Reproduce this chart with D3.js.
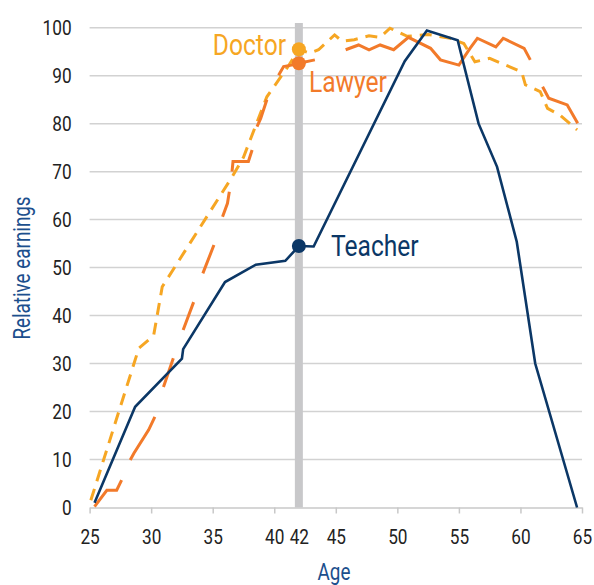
<!DOCTYPE html>
<html>
<head>
<meta charset="utf-8">
<script src="https://cdn.jsdelivr.net/npm/d3@7"></script>
<style>
  body { margin: 0; background: #fff; }
  svg text { font-family: Roboto, "Liberation Sans", sans-serif; font-weight: 400; }
</style>
</head>
<body>
<svg id="earnings"></svg>
<script>
////////////////
// THE DATA
////////////////

// Teacher: solid navy line
var teacherAge = [25.4, 28.7, 32.5, 32.6, 36.0, 38.5, 40.9, 42.0, 43.2, 50.6, 52.4, 54.9, 56.6, 58.1, 59.7, 61.2, 64.6];
var teacherVal = [1, 21, 31, 33, 47, 50.6, 51.4, 54.5, 54.4, 93, 99.4, 97.4, 80, 71, 55.4, 30, 0];

// Doctor: dashed amber line
var doctorAge = [25.1, 29.0, 30.2, 30.9, 36.6, 37.5, 39.4, 41.2, 42.0, 42.9, 43.6, 44.9, 45.5, 46.5, 47.7, 48.6, 49.4, 50.8, 52.5, 54.3, 55.4, 56.3, 57.5, 60.1, 60.4, 61.6, 62.2, 63.2, 64.6];
var doctorVal = [1.5, 33.2, 35.8, 46, 69, 73, 85.6, 92.2, 95.5, 94.7, 95.4, 98.5, 97.2, 97.5, 98.3, 98, 99.9, 98.2, 98.6, 97.8, 96.7, 92.9, 93.6, 90.8, 88.1, 86.7, 83.2, 81.8, 78.7];

// Lawyer: solid orange line, null = missing years (gaps)
var lawyerAge = [25.4, 26.4, 27.2, 27.6, null, 28.3, 28.6, 29.8, 30.3, null, 31.0, 31.8, null, 32.6, 33.45, null, 34.2, 35.1, null, 35.8, 36.2, 36.35, null, 36.57, 36.65, 37.9, 38.2, null, 38.6, 38.9, 39.4, null, 40.35, 40.76, 41.4, 42.0, 43.3, null, 45.8, 46.85, 47.7, 48.6, 49.7, 50.9, 52.7, 53.5, 55.0, 55.9, 56.5, 58.0, 58.6, 60.3, 60.8, null, 61.8, 62.3, 63.8, 64.65];
var lawyerVal = [0.2, 3.6, 3.6, 5.7, null, 9.9, 11.3, 16.2, 18.9, null, 25.1, 31.1, null, 37, 42.8, null, 48.8, 54.7, null, 60.6, 63.4, 65.8, null, 70, 72.1, 72.1, 74.5, null, 79.4, 81.1, 85, null, 90.1, 91.9, 92.2, 92.6, 93.3, null, 95.4, 96.4, 95.4, 96.4, 95.4, 98.0, 95.7, 93.3, 92.2, 95.7, 97.8, 96, 97.8, 95.7, 93.3, null, 87.7, 85.3, 83.9, 80.1];

// Ticks
var xTicks = [25, 30, 35, 40, 42, 45, 50, 55, 60, 65];
var yTicks = [0, 10, 20, 30, 40, 50, 60, 70, 80, 90, 100];

// The highlighted age and the value of each series there
var markAge = 42;
var markDoctor = 95.5,
    markLawyer = 92.6,
    markTeacher = 54.5;

// General vars
var width = 594,
    height = 585,
    navy = '#0b3766',
    amber = '#f6a623',
    orange = '#f27a2a',
    grid = '#d2d2d2',
    squeeze = 'scale(0.82,1)';   // fake a condensed face

var x = d3.scaleLinear().domain([25, 65]).range([89.6, 582]);
var y = d3.scaleLinear().domain([0, 100]).range([507.5, 27.7]);

var svg = d3.select('svg#earnings')
  .attr('width', width)
  .attr('height', height)
  .attr('viewBox', '0,0,' + width + ',' + height);

// Put a text at x,y and squeeze it horizontally
function label(txt, px, py, size, color, anchor, extra){
  return svg.append('text')
    .text(txt)
    .attr('transform', 'translate(' + px + ',' + py + ')' + (extra || '') + ' ' + squeeze)
    .attr('text-anchor', anchor || 'start')
    .style('font-size', size + 'px')
    .attr('fill', color);
}

// Horizontal gridlines
svg.append('g')
  .selectAll('line')
  .data(yTicks.filter(function(d){ return d > 0; }))
  .enter().append('line')
    .attr('x1', x(25))
    .attr('x2', x(65))
    .attr('y1', function(d){ return y(d); })
    .attr('y2', function(d){ return y(d); })
    .attr('stroke', grid)
    .attr('stroke-width', 1.5);

// Y axis labels
var yAxis = svg.append('g')
  .attr('transform', 'translate(' + (x(25) - 18) + ',0)')
  .call(d3.axisLeft(y).tickValues(yTicks).tickSize(0).tickPadding(0));
yAxis.select('.domain').remove();
yAxis.attr('font-family', null);
yAxis.selectAll('text')
  .attr('x', 0)
  .attr('transform', squeeze)
  .style('font-size', '21px')
  .attr('fill', '#222');

// X axis
var xAxis = svg.append('g')
  .attr('transform', 'translate(0,' + y(0) + ')')
  .call(d3.axisBottom(x).tickValues(xTicks).tickSize(6).tickSizeOuter(0).tickPadding(16).tickFormat(d3.format('d')));
xAxis.attr('font-family', null);
xAxis.select('.domain').attr('stroke', '#c8c8c8').attr('stroke-width', 1.5);
xAxis.selectAll('.tick line')
  .attr('stroke', '#c8c8c8')
  .attr('stroke-width', 1.5)
  // no tick for the highlighted age
  .attr('display', function(d){ return d === markAge ? 'none' : null; });
xAxis.selectAll('text')
  .attr('transform', squeeze)
  .style('font-size', '21px')
  .attr('fill', '#222');

// Axis titles
label('Age', 334, 580, 23, '#1c4f8d', 'middle');
label('Relative earnings', 30, 268, 23, '#1c4f8d', 'middle', ' rotate(-90)');

// The grey bar at age 42
svg.append('line')
  .attr('x1', x(markAge))
  .attr('x2', x(markAge))
  .attr('y1', 23)
  .attr('y2', y(0))
  .attr('stroke', '#c8c8ca')
  .attr('stroke-width', 8);

// Line helper
function series(ages, vals){
  return ages.map(function(a, i){ return {age: a, val: vals[i]}; });
}
var line = d3.line()
  .defined(function(d){ return d.age !== null && d.val !== null; })
  .x(function(d){ return x(d.age); })
  .y(function(d){ return y(d.val); });

svg.append('path')
  .datum(series(doctorAge, doctorVal))
  .attr('d', line)
  .attr('fill', 'none')
  .attr('stroke', amber)
  .attr('stroke-width', 3)
  .attr('stroke-dasharray', '12,8');

svg.append('path')
  .datum(series(lawyerAge, lawyerVal))
  .attr('d', line)
  .attr('fill', 'none')
  .attr('stroke', orange)
  .attr('stroke-width', 3);

svg.append('path')
  .datum(series(teacherAge, teacherVal))
  .attr('d', line)
  .attr('fill', 'none')
  .attr('stroke', navy)
  .attr('stroke-width', 2.6);

// Dots at age 42
var dots = [
  {val: markDoctor, color: amber},
  {val: markLawyer, color: orange},
  {val: markTeacher, color: navy}
];
svg.selectAll('circle')
  .data(dots)
  .enter().append('circle')
    .attr('cx', x(markAge))
    .attr('cy', function(d){ return y(d.val); })
    .attr('r', 7)
    .attr('fill', function(d){ return d.color; });

// Series labels
label('Doctor', 286, 55, 30, amber, 'end');
label('Lawyer', 309, 92, 30, orange);
label('Teacher', 331, 256, 30, navy);
</script>
</body>
</html>
